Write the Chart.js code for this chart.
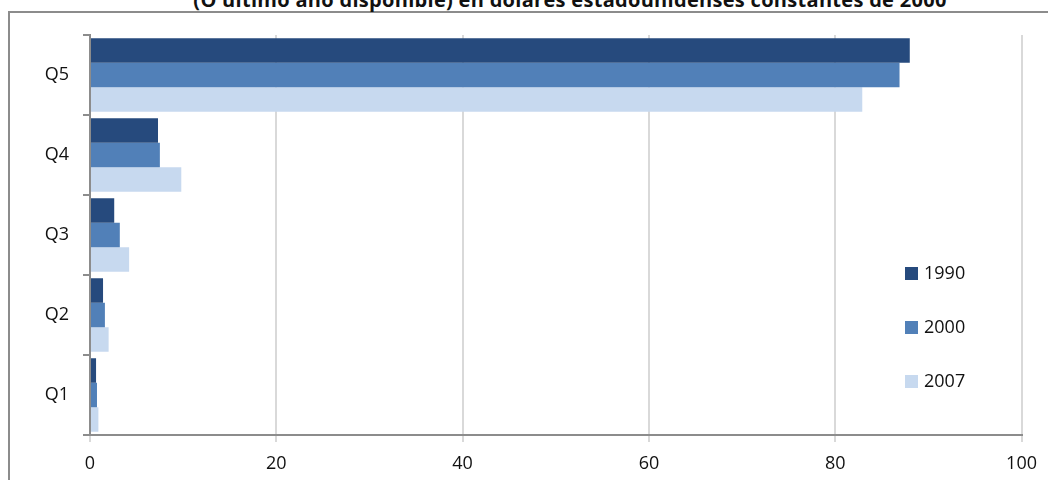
<!DOCTYPE html>
<html>
<head>
<meta charset="utf-8">
<script src="https://cdn.jsdelivr.net/npm/chart.js@4"></script>
<style>
  body { margin: 0; background: #fff; font-family: "Open Sans", sans-serif; }
  #wrap { position: relative; width: 1048px; height: 480px; overflow: hidden; }
  #frame { position: absolute; left: 8px; top: 11px; width: 1100px; height: 600px;
           border: 2px solid #8c8c8c; box-sizing: border-box; }
  #title { position: absolute; left: 0; width: 1048px; top: -14px; text-align: center;
           font-weight: bold; font-size: 20px; color: #111; white-space: nowrap;
           letter-spacing: 0.3px; padding-left: 92px; box-sizing: border-box; }
  #chartBox { position: absolute; left: 0; top: 0; width: 1048px; height: 480px; }
  #legend { position: absolute; left: 905px; top: 261px; font-size: 18px; color: #111; }
  #legend div { height: 54px; line-height: 22px; }
  #legend span.box { display: inline-block; width: 13px; height: 13px; margin-right: 6px; vertical-align: -1px; }
</style>
</head>
<body>
<div id="wrap">
  <div id="frame"></div>
  <div id="title">(O último año disponible) en dólares estadounidenses constantes de 2000</div>
  <div id="chartBox"><canvas id="quintiles"></canvas></div>
  <div id="legend"></div>
</div>
<script>
var quintiles = ["Q5", "Q4", "Q3", "Q2", "Q1"];
var years = ["1990", "2000", "2007"];
var values1990 = [88.0, 7.3, 2.6, 1.4, 0.65];
var values2000 = [86.9, 7.5, 3.2, 1.6, 0.75];
var values2007 = [82.9, 9.8, 4.2, 2.0, 0.9];
var xTicks = [0, 20, 40, 60, 80, 100];
var barColors = ["#264a7d", "#5180b8", "#c7d9ef"];

var allValues = [values1990, values2000, values2007];
var datasets = years.map(function (y, i) {
  return {
    label: y,
    data: allValues[i],
    backgroundColor: barColors[i],
    borderWidth: 0,
    barPercentage: 1.0,
    categoryPercentage: 0.92
  };
});

new Chart("quintiles", {
  type: "bar",
  data: { labels: quintiles, datasets: datasets },
  options: {
    indexAxis: "y",
    responsive: true,
    maintainAspectRatio: false,
    animation: false,
    layout: { padding: { left: 10, right: 25, top: 35, bottom: 0 } },
    plugins: { legend: { display: false }, tooltip: { enabled: false } },
    scales: {
      x: {
        min: 0, max: 100,
        afterBuildTicks: function (s) { s.ticks = xTicks.map(function (v) { return { value: v }; }); },
        afterFit: function (s) { s.height = 45; },
        grid: { color: "#d9d9d9", lineWidth: 2, tickLength: 7, tickColor: "#d9d9d9" },
        border: { color: "#8c8c8c", width: 2 },
        ticks: { color: "#111", font: { family: "Open Sans", size: 18 }, padding: 11 }
      },
      y: {
        afterFit: function (s) { s.width = 80; },
        grid: { drawOnChartArea: false, tickLength: 7, color: "#8c8c8c", lineWidth: 2 },
        border: { color: "#8c8c8c", width: 2 },
        ticks: { color: "#111", font: { family: "Open Sans", size: 18 }, padding: 14 }
      }
    }
  }
});

var legend = document.getElementById("legend");
years.forEach(function (y, i) {
  var row = document.createElement("div");
  row.innerHTML = '<span class="box" style="background:' + barColors[i] + '"></span>' + y;
  legend.appendChild(row);
});
</script>
</body>
</html>
